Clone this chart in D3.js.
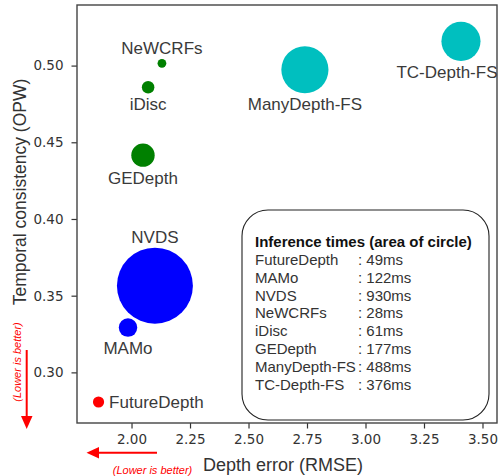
<!DOCTYPE html>
<html>
<head>
<meta charset="utf-8">
<script src="https://cdn.jsdelivr.net/npm/d3@7"></script>
<style>
  html, body { margin: 0; padding: 0; background: #fff; }
  svg { display: block; }
</style>
</head>
<body>
<svg id="chart" width="499" height="476"></svg>
<script>
// ---- data ----
const methods = ["FutureDepth", "MAMo", "NVDS", "NeWCRFs", "iDisc", "GEDepth", "ManyDepth-FS", "TC-Depth-FS"];
const rmse    = [1.859, 1.985, 2.100, 2.130, 2.071, 2.049, 2.741, 3.408];
const opw     = [0.2807, 0.3292, 0.3565, 0.5015, 0.4859, 0.4416, 0.4973, 0.5158];
const timesMs = [49, 122, 930, 28, 61, 177, 488, 376];
const groups  = ["ours", "video", "video", "single", "single", "single", "multi", "multi"];
const xTicks = [2.00, 2.25, 2.50, 2.75, 3.00, 3.25, 3.50];
const yTicks = [0.30, 0.35, 0.40, 0.45, 0.50];
const legendTitle = "Inference times (area of circle)";
const xLabel = "Depth error (RMSE)";
const yLabel = "Temporal consistency (OPW)";
const betterNote = "(Lower is better)";

// ---- styles / layout ----
const colorOf = { ours: "#ff0000", video: "#0000ff", single: "#008000", multi: "#00bfbf" };
// label placement: "above", "below", "right"
const labelPlace = { "FutureDepth": "right", "MAMo": "below", "NVDS": "above", "NeWCRFs": "above",
  "iDisc": "below", "GEDepth": "below", "ManyDepth-FS": "below", "TC-Depth-FS": "below" };
const labelDx = { "TC-Depth-FS": -14 };

const svg = d3.select("#chart");
const plot = { left: 77, right: 497, top: 5, bottom: 423 };

const x = d3.scaleLinear().domain([1.767, 3.562]).range([plot.left, plot.right]);
const y = d3.scaleLinear().domain([0.267, 0.5395]).range([plot.bottom, plot.top]);
const r = d3.scalePow().exponent(0.8).domain([0, 930]).range([2.2, 38]);

const tickFont = "'DejaVu Sans', sans-serif";
const textFont = "'Liberation Sans', Arial, sans-serif";

// axes
const xAxis = svg.append("g")
  .attr("transform", `translate(0,${plot.bottom})`)
  .call(d3.axisBottom(x).tickValues(xTicks).tickFormat(d3.format(".2f")).tickSize(5.5).tickPadding(5.5));
const yAxis = svg.append("g")
  .attr("transform", `translate(${plot.left},0)`)
  .call(d3.axisLeft(y).tickValues(yTicks).tickFormat(d3.format(".2f")).tickSize(5.5).tickPadding(8));
[xAxis, yAxis].forEach(g => {
  g.select(".domain").remove();
  g.selectAll(".tick line").attr("stroke", "#333").attr("stroke-width", 1.2);
  g.selectAll(".tick text").attr("fill", "#333").style("font-family", tickFont).style("font-size", "13.5px");
});

// frame
svg.append("rect")
  .attr("x", plot.left).attr("y", plot.top)
  .attr("width", plot.right - plot.left).attr("height", plot.bottom - plot.top)
  .attr("fill", "none").attr("stroke", "#444").attr("stroke-width", 1.4);

// bubbles
const pts = methods.map((m, i) => ({ m, x: rmse[i], y: opw[i], t: timesMs[i], g: groups[i] }));
svg.append("g").selectAll("circle").data(pts).join("circle")
  .attr("cx", d => x(d.x)).attr("cy", d => y(d.y)).attr("r", d => r(d.t))
  .attr("fill", d => colorOf[d.g]);

// point labels
svg.append("g").selectAll("text").data(pts).join("text")
  .attr("x", d => {
    const p = labelPlace[d.m];
    const dx = labelDx[d.m] || 0;
    return p === "right" ? x(d.x) + r(d.t) + 5 : x(d.x) + dx;
  })
  .attr("y", d => {
    const p = labelPlace[d.m];
    if (p === "above") return y(d.y) - r(d.t) - 5;
    if (p === "below") return y(d.y) + r(d.t) + 17;
    return y(d.y) + 6;
  })
  .attr("text-anchor", d => labelPlace[d.m] === "right" ? "start" : "middle")
  .attr("fill", "#3a3a3a")
  .style("font-family", textFont).style("font-size", "17px")
  .text(d => d.m);

// legend box
const lg = { x: 242, y: 210, w: 247, h: 210, rx: 26 };
svg.append("rect")
  .attr("x", lg.x).attr("y", lg.y).attr("width", lg.w).attr("height", lg.h)
  .attr("rx", lg.rx).attr("ry", lg.rx)
  .attr("fill", "#fff").attr("stroke", "#222").attr("stroke-width", 1.1);
svg.append("text")
  .attr("x", 255).attr("y", 247)
  .attr("fill", "#111").style("font-family", textFont).style("font-size", "15px").style("font-weight", "bold")
  .text(legendTitle);
const rowH = 17.8;
const rows = svg.append("g").selectAll("g").data(pts).join("g")
  .attr("transform", (d, i) => `translate(0,${265 + i * rowH})`);
rows.append("text").attr("x", 255)
  .attr("fill", "#333").style("font-family", textFont).style("font-size", "15px")
  .text(d => d.m);
rows.append("text").attr("x", 358)
  .attr("fill", "#333").style("font-family", textFont).style("font-size", "15px")
  .text(d => ": " + d.t + "ms");

// axis labels
svg.append("text")
  .attr("x", 283).attr("y", 471)
  .attr("text-anchor", "middle").attr("fill", "#333")
  .style("font-family", textFont).style("font-size", "18px")
  .text(xLabel);
svg.append("text")
  .attr("transform", `translate(25.5,${(plot.top + plot.bottom) / 2 - 22}) rotate(-90)`)
  .attr("text-anchor", "middle").attr("fill", "#333")
  .style("font-family", textFont).style("font-size", "17.5px")
  .text(yLabel);

// "lower is better" arrows
const red = "#ff0000";
// vertical
svg.append("line").attr("x1", 26.7).attr("x2", 26.7).attr("y1", 350).attr("y2", 418)
  .attr("stroke", red).attr("stroke-width", 2);
svg.append("path").attr("d", "M21,416 L32.5,416 L26.7,429 Z").attr("fill", red);
svg.append("text")
  .attr("transform", "translate(20.5,362) rotate(-90)")
  .attr("text-anchor", "middle").attr("fill", red)
  .style("font-family", textFont).style("font-size", "11px").style("font-style", "italic")
  .text(betterNote);
// horizontal
svg.append("line").attr("x1", 157).attr("x2", 97).attr("y1", 452.7).attr("y2", 452.7)
  .attr("stroke", red).attr("stroke-width", 2);
svg.append("path").attr("d", "M99,447 L99,458.5 L86.5,452.7 Z").attr("fill", red);
svg.append("text")
  .attr("x", 152.5).attr("y", 474)
  .attr("text-anchor", "middle").attr("fill", red)
  .style("font-family", textFont).style("font-size", "11px").style("font-style", "italic")
  .text(betterNote);
</script>
</body>
</html>
